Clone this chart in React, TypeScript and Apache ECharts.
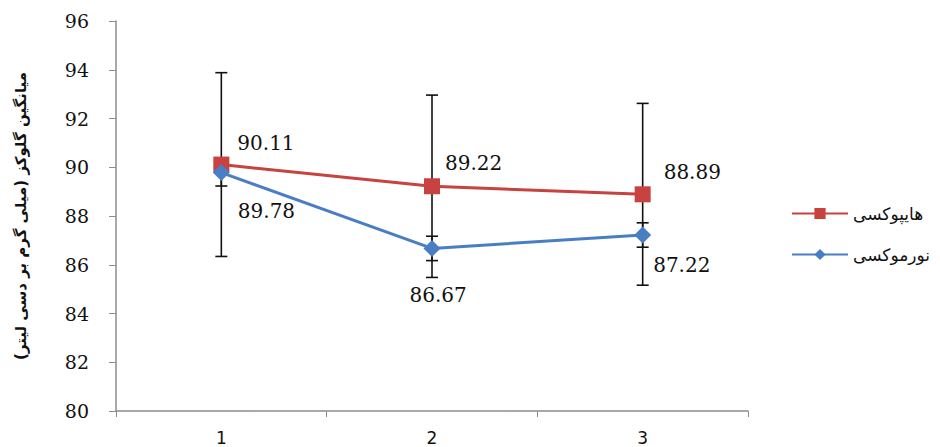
import React, { useEffect, useRef } from "react";
import * as echarts from "echarts";

const categories = ["1", "2", "3"];
const hypoxiaName = "هایپوکسی";
const normoxiaName = "نورموکسی";
const hypoxiaValues = [90.11, 89.22, 88.89];
const normoxiaValues = [89.78, 86.67, 87.22];
const hypoxiaErrors = [3.77, 3.74, 3.73];
const normoxiaErrors = [0.55, 0.5, 0.5];
const yTicks = { min: 80, max: 96, interval: 2 };
const yTitle = "میانگین گلوکز (میلی گرم بر دسی لیتر)";

const hypoxiaLabelOffsets = [[3, -22], [0, -23], [8, -22]];
const normoxiaLabelOffsets = [[3, 38], [-36, 47], [-3, 30]];

const RED = "#C8423F";
const BLUE = "#4A7EC4";
const SERIF = "DejaVu Serif";

export default function App() {
  const ref = useRef<HTMLDivElement>(null);
  useEffect(() => {
    if (!ref.current) return;
    const chart = echarts.init(ref.current, null, { renderer: "svg" });

    const errData = (vals: number[], errs: number[]) =>
      vals.map((v, i) => [i, v - errs[i], v + errs[i]]);

    const renderErr = (params: any, api: any) => {
      const x = api.value(0);
      const lo = api.coord([x, api.value(1)]);
      const hi = api.coord([x, api.value(2)]);
      const cw = 6;
      const style = { stroke: "#111", lineWidth: 1.6 };
      return {
        type: "group",
        children: [
          { type: "line", shape: { x1: lo[0], y1: lo[1], x2: hi[0], y2: hi[1] }, style },
          { type: "line", shape: { x1: lo[0] - cw, y1: lo[1], x2: lo[0] + cw, y2: lo[1] }, style },
          { type: "line", shape: { x1: hi[0] - cw, y1: hi[1], x2: hi[0] + cw, y2: hi[1] }, style },
        ],
      };
    };

    const labelFont = {
      fontFamily: SERIF,
      fontSize: 20,
      color: "#111",
    };

    chart.setOption({
      animation: false,
      backgroundColor: "#fff",
      grid: { left: 116, right: 192, top: 21, bottom: 36 },
      legend: {
        left: 786,
        top: 200,
        orient: "vertical",
        itemWidth: 56,
        itemHeight: 14,
        itemGap: 24,
        data: [hypoxiaName, normoxiaName],
        textStyle: { fontFamily: "DejaVu Sans", fontSize: 17, color: "#111" },
      },
      xAxis: {
        type: "category",
        data: categories,
        boundaryGap: true,
        axisLine: { lineStyle: { color: "#8c8c8c", width: 1.5 } },
        axisTick: { show: true, length: 6, lineStyle: { color: "#8c8c8c" } },
        axisLabel: {
          margin: 18,
          fontFamily: "DejaVu Sans",
          fontSize: 17,
          color: "#111",
        },
      },
      yAxis: {
        type: "value",
        min: yTicks.min,
        max: yTicks.max,
        interval: yTicks.interval,
        splitLine: { show: false },
        axisLine: { show: true, lineStyle: { color: "#8c8c8c", width: 1.5 } },
        axisTick: { show: true, length: 7, lineStyle: { color: "#8c8c8c" } },
        axisLabel: {
          margin: 27,
          fontFamily: SERIF,
          fontSize: 19,
          color: "#111",
        },
        name: yTitle,
        nameLocation: "middle",
        nameGap: 88,
        nameRotate: 90,
        nameTextStyle: {
          fontFamily: "DejaVu Sans",
          fontWeight: "bold",
          fontSize: 15,
          color: "#111",
        },
      },
      series: [
        {
          type: "custom",
          name: "err-h",
          renderItem: renderErr,
          data: errData(hypoxiaValues, hypoxiaErrors),
          encode: { x: 0, y: [1, 2] },
          z: 1,
          silent: true,
        },
        {
          type: "custom",
          name: "err-n",
          renderItem: renderErr,
          data: errData(normoxiaValues, normoxiaErrors),
          encode: { x: 0, y: [1, 2] },
          z: 1,
          silent: true,
        },
        {
          type: "line",
          name: hypoxiaName,
          z: 3,
          symbol: "rect",
          symbolSize: 16,
          lineStyle: { color: RED, width: 3 },
          itemStyle: { color: RED },
          data: hypoxiaValues.map((v, i) => ({
            value: v,
            label: { offset: hypoxiaLabelOffsets[i] },
          })),
          label: {
            show: true,
            position: "right",
            formatter: (p: any) => Number(p.value).toFixed(2),
            ...labelFont,
          },
        },
        {
          type: "line",
          name: normoxiaName,
          z: 4,
          symbol: "diamond",
          symbolSize: 17,
          lineStyle: { color: BLUE, width: 3 },
          itemStyle: { color: BLUE },
          data: normoxiaValues.map((v, i) => ({
            value: v,
            label: { offset: normoxiaLabelOffsets[i] },
          })),
          label: {
            show: true,
            position: "right",
            formatter: (p: any) => Number(p.value).toFixed(2),
            ...labelFont,
          },
        },
      ],
    });
    return () => chart.dispose();
  }, []);
  return <div ref={ref} style={{ width: 940, height: 447, position: "absolute", left: 0, top: 0 }} />;
}
